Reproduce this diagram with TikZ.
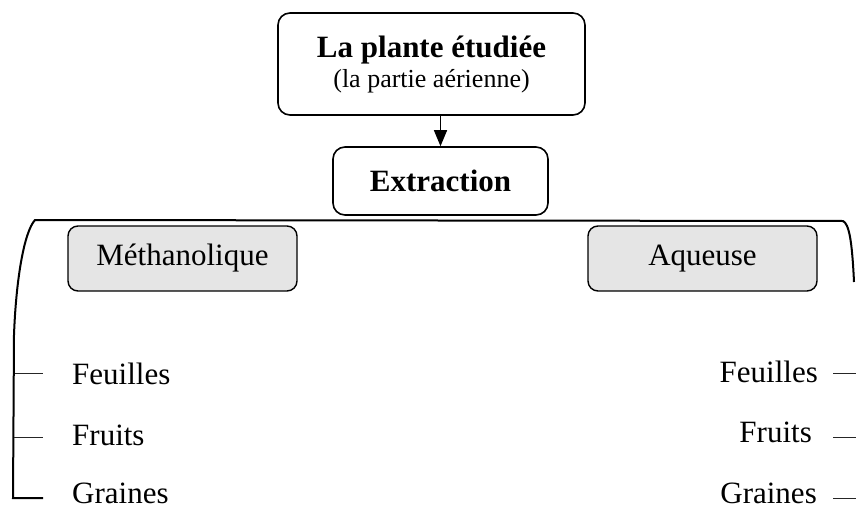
\documentclass[tikz,border=0pt]{standalone}
\usepackage{fontspec}
\setmainfont{Liberation Serif}
\usetikzlibrary{arrows.meta}
\begin{document}
\begin{tikzpicture}[x=1pt,y=-1pt,
  font=\fontsize{31}{34}\selectfont,
  mainbox/.style={draw, line width=1.6pt, rounded corners=12pt, inner sep=0pt},
  greybox/.style={draw, line width=1.4pt, rounded corners=10pt, fill=black!10, inner sep=0pt,
    minimum width=229pt, minimum height=65pt},
  bracket/.style={line width=2pt},
  tick/.style={line width=1pt, black!85},
  item/.style={inner sep=0pt}]
\useasboundingbox (0,0) rectangle (856,508);

\node[mainbox, minimum width=307pt, minimum height=102pt, align=center] (plant) at (431.5,64)
  {\bfseries La plante étudiée\\[-4pt]{\fontsize{26}{29}\selectfont (la partie aérienne)}};
\node[mainbox, minimum width=215pt, minimum height=68pt] (ext) at (440.5,181) {\bfseries Extraction};
\draw[line width=1.4pt, -{Triangle[length=16pt,width=13pt]}] (plant.south -| ext.north) -- (ext.north);

\coordinate (bl) at (35,220);
\coordinate (br) at (843,221);
\coordinate (lb) at (13,498);
\coordinate (lbe) at (43,498);
\coordinate (rend) at (854,282);
\draw[bracket] (lbe) -- (lb) -- (14,335) .. controls (16,280) and (24,232) .. (bl) -- (br)
  .. controls (849,224) and (852,240) .. (rend);

\node[greybox] (meth) at (182.5,258.5) {Méthanolique};
\node[greybox] (aq) at (702.5,258.5) {Aqueuse};

\node[item, anchor=base west] (lf) at (72,384) {Feuilles};
\node[item, anchor=base west] (lfr) at (72,445) {Fruits};
\node[item, anchor=base west] (lg) at (72,503) {Graines};
\node[item, anchor=base east] (rf) at (818,382) {Feuilles};
\node[item, anchor=base east] (rfr) at (812,442) {Fruits};
\node[item, anchor=base east] (rg) at (817,503) {Graines};

\coordinate (t1a) at (15,373); \coordinate (t1b) at (43,373);
\coordinate (t2a) at (14,437); \coordinate (t2b) at (43,437);
\draw[tick] (t1a) -- (t1b);
\draw[tick] (t2a) -- (t2b);
\coordinate (r1a) at (833,373); \coordinate (r1b) at (856,373);
\coordinate (r2a) at (833,437); \coordinate (r2b) at (856,437);
\coordinate (r3a) at (833,498); \coordinate (r3b) at (856,498);
\draw[tick] (r1a) -- (r1b);
\draw[tick] (r2a) -- (r2b);
\draw[tick] (r3a) -- (r3b);
\end{tikzpicture}
\end{document}
